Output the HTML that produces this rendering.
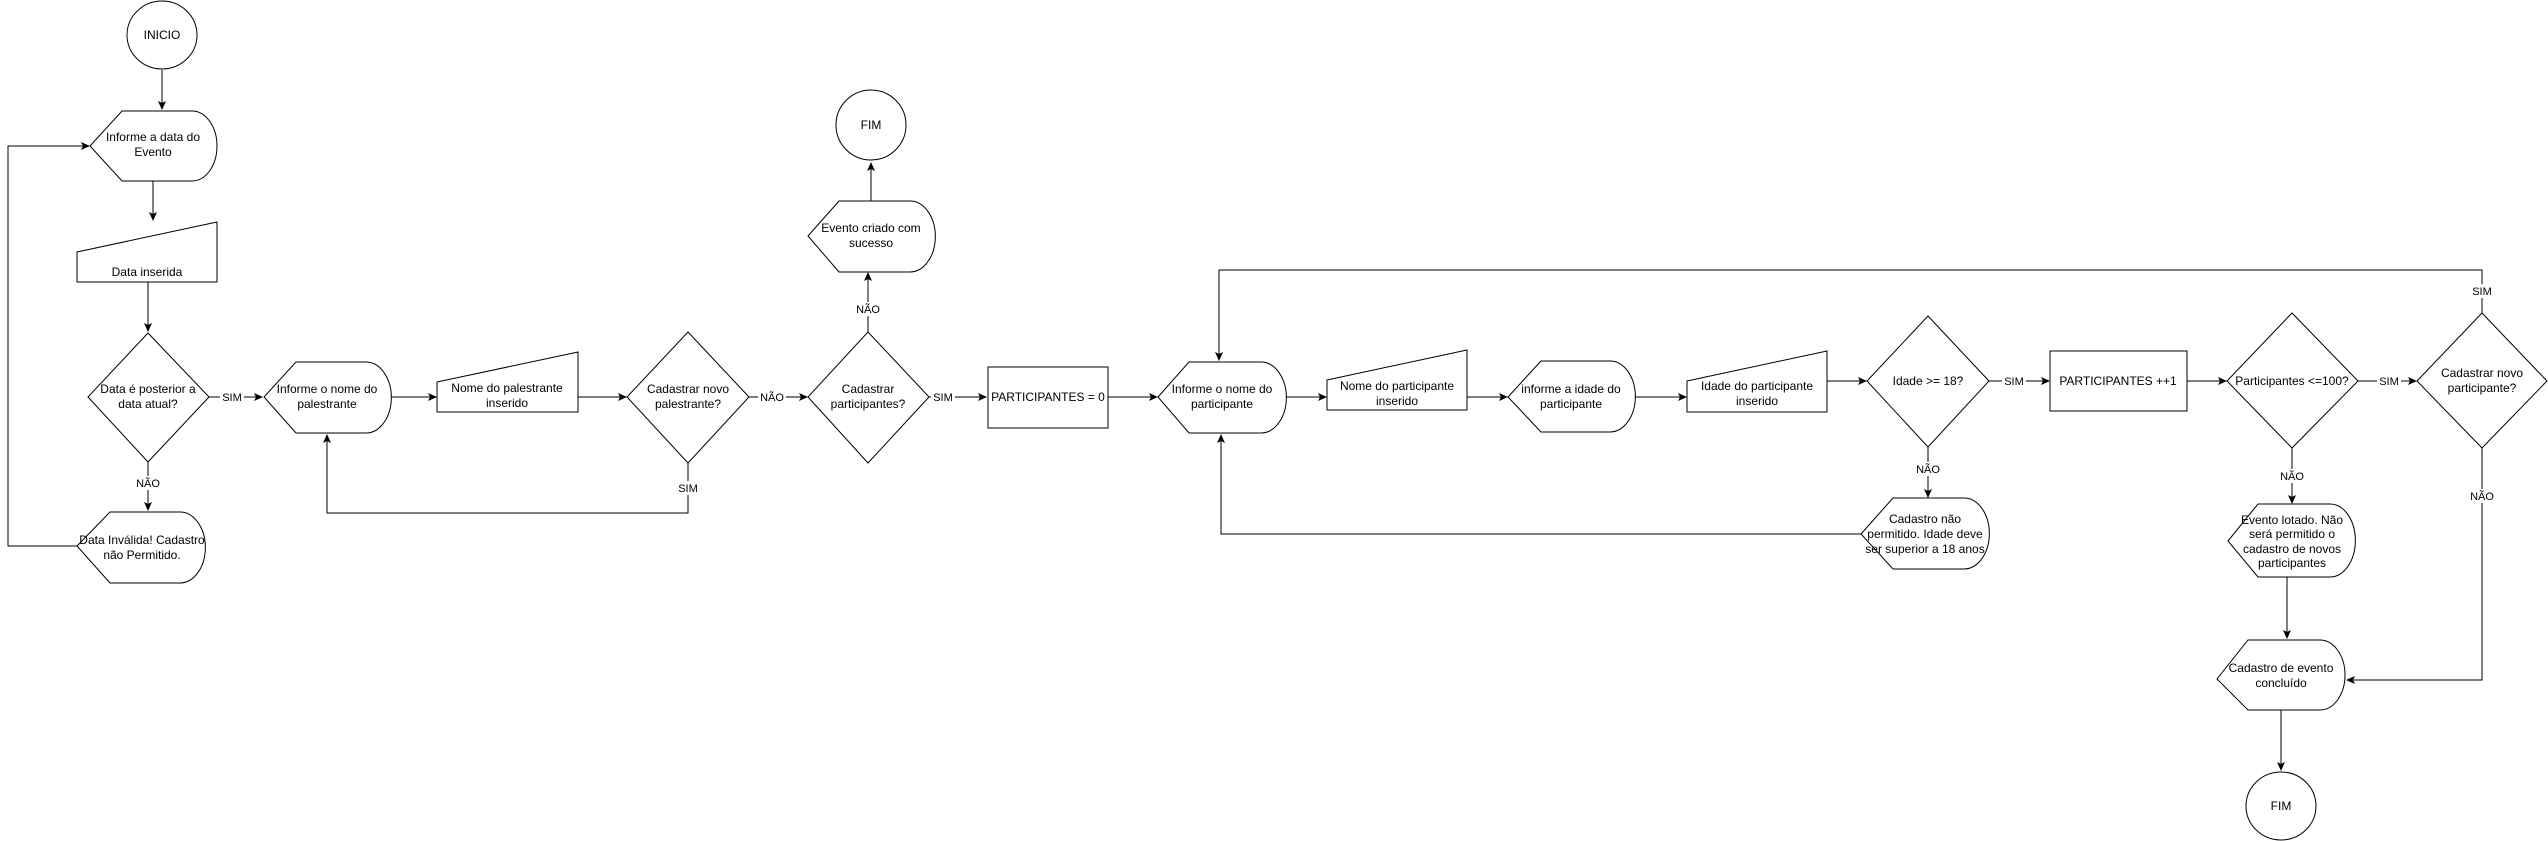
<!DOCTYPE html>
<html><head><meta charset="utf-8"><style>
html,body{margin:0;padding:0;background:#fff;}
svg{display:block;}
text{font-family:"Liberation Sans",Helvetica,Arial,sans-serif;font-size:12px;fill:#000;text-anchor:middle;}
.l{font-size:11px;}
.s{fill:#fff;stroke:#000;stroke-width:1;}
.c{fill:none;stroke:#000;stroke-width:1;}
</style></head><body>
<svg width="2548" height="841" viewBox="0 0 2548 841" xmlns="http://www.w3.org/2000/svg">
<defs><marker id="a" markerWidth="10" markerHeight="10" refX="8" refY="4" orient="auto" markerUnits="userSpaceOnUse"><path d="M0,0 L9,4 L0,8 L2,4 Z" fill="#000"/></marker></defs>

<!-- connectors -->
<g class="c" marker-end="url(#a)">
<path d="M162,70 V109"/>
<path d="M153,181 V220"/>
<path d="M148,282 V331"/>
<path d="M209,397 H262"/>
<path d="M148,462 V510"/>
<path d="M77,546 H8 V146 H89"/>
<path d="M391,397 H436"/>
<path d="M578,397 H626"/>
<path d="M688,463 V513 H327 V435"/>
<path d="M748,397 H807"/>
<path d="M868,332 V273"/>
<path d="M871,201 V163"/>
<path d="M929,397 H986"/>
<path d="M1108,397 H1157"/>
<path d="M1286,397 H1326"/>
<path d="M1467,397 H1507"/>
<path d="M1635,397 H1686"/>
<path d="M1827,381 H1866"/>
<path d="M1989,381 H2049"/>
<path d="M1928,447 V497"/>
<path d="M1861,534 H1221 V435"/>
<path d="M2187,381 H2226"/>
<path d="M2358,381 H2416"/>
<path d="M2292,448 V503"/>
<path d="M2482,313 V270 H1219 V360"/>
<path d="M2482,448 V680 H2347"/>
<path d="M2287,577 V638"/>
<path d="M2281,710 V770"/>
</g>

<!-- shapes -->
<ellipse class="s" cx="162" cy="35" rx="35" ry="34"/>
<text x="162" y="39">INICIO</text>

<path class="s" d="M90,146 L122,111 H192 A25,35 0 0 1 192,181 H122 Z"/>
<text x="153" y="141">Informe a data do</text><text x="153" y="156">Evento</text>

<path class="s" d="M77,252 L217,222 V282 H77 Z"/>
<text x="147" y="276">Data inserida</text>

<path class="s" d="M148,333 L209,397 L148,462 L88,397 Z"/>
<text x="148" y="393">Data é posterior a</text><text x="148" y="408">data atual?</text>

<path class="s" d="M77,546 L110,512 H180 A25,35 0 0 1 180,583 H110 Z"/>
<text x="142" y="544">Data Inválida! Cadastro</text><text x="142" y="559">não Permitido.</text>

<path class="s" d="M264,397 L296,362 H366 A25,35 0 0 1 366,433 H296 Z"/>
<text x="327" y="393">Informe o nome do</text><text x="327" y="408">palestrante</text>

<path class="s" d="M437,382 L578,352 V412 H437 Z"/>
<text x="507" y="392">Nome do palestrante</text><text x="507" y="407">inserido</text>

<path class="s" d="M688,332 L749,397 L688,463 L627,397 Z"/>
<text x="688" y="393">Cadastrar novo</text><text x="688" y="408">palestrante?</text>

<path class="s" d="M868,332 L929,397 L868,463 L808,397 Z"/>
<text x="868" y="393">Cadastrar</text><text x="868" y="408">participantes?</text>

<path class="s" d="M808,236 L839,201 H910 A25,35 0 0 1 910,272 H839 Z"/>
<text x="871" y="232">Evento criado com</text><text x="871" y="247">sucesso</text>

<ellipse class="s" cx="871" cy="125" rx="35" ry="35"/>
<text x="871" y="129">FIM</text>

<rect class="s" x="988" y="367" width="120" height="61"/>
<text x="1048" y="401">PARTICIPANTES = 0</text>

<path class="s" d="M1158,397 L1189,362 H1261 A25,35 0 0 1 1261,433 H1189 Z"/>
<text x="1222" y="393">Informe o nome do</text><text x="1222" y="408">participante</text>

<path class="s" d="M1327,380 L1467,350 V410 H1327 Z"/>
<text x="1397" y="390">Nome do participante</text><text x="1397" y="405">inserido</text>

<path class="s" d="M1508,397 L1541,361 H1610 A25,35 0 0 1 1610,432 H1541 Z"/>
<text x="1571" y="393">informe a idade do</text><text x="1571" y="408">participante</text>

<path class="s" d="M1687,381 L1827,351 V412 H1687 Z"/>
<text x="1757" y="390">Idade do participante</text><text x="1757" y="405">inserido</text>

<path class="s" d="M1928,316 L1989,381 L1928,447 L1867,381 Z"/>
<text x="1928" y="385">Idade &gt;= 18?</text>

<path class="s" d="M1861,534 L1893,498 H1964 A25,35 0 0 1 1964,569 H1893 Z"/>
<text x="1925" y="523">Cadastro não</text><text x="1925" y="538">permitido. Idade deve</text><text x="1925" y="553">ser superior a 18 anos</text>

<rect class="s" x="2050" y="351" width="137" height="60"/>
<text x="2118" y="385">PARTICIPANTES ++1</text>

<path class="s" d="M2292,313 L2358,381 L2292,448 L2227,381 Z"/>
<text x="2292" y="385">Participantes &lt;=100?</text>

<path class="s" d="M2482,313 L2547,381 L2482,448 L2417,381 Z"/>
<text x="2482" y="377">Cadastrar novo</text><text x="2482" y="392">participante?</text>

<path class="s" d="M2228,541 L2258,504 H2330 A25,36 0 0 1 2330,577 H2258 Z"/>
<text x="2292" y="524">Evento lotado. Não</text><text x="2292" y="538">será permitido o</text><text x="2292" y="553">cadastro de novos</text><text x="2292" y="567">participantes</text>

<path class="s" d="M2217,679 L2248,640 H2320 A25,35 0 0 1 2320,710 H2248 Z"/>
<text x="2281" y="672">Cadastro de evento</text><text x="2281" y="687">concluído</text>

<ellipse class="s" cx="2281" cy="806" rx="35" ry="34"/>
<text x="2281" y="810">FIM</text>

<!-- labels -->
<g class="l">
<rect x="220" y="390" width="24" height="14" fill="#fff"/><text class="l" x="232" y="401">SIM</text>
<rect x="134" y="476" width="28" height="14" fill="#fff"/><text class="l" x="148" y="487">NÃO</text>
<rect x="676" y="481" width="24" height="14" fill="#fff"/><text class="l" x="688" y="492">SIM</text>
<rect x="758" y="390" width="28" height="14" fill="#fff"/><text class="l" x="772" y="401">NÃO</text>
<rect x="854" y="302" width="28" height="14" fill="#fff"/><text class="l" x="868" y="313">NÃO</text>
<rect x="931" y="390" width="24" height="14" fill="#fff"/><text class="l" x="943" y="401">SIM</text>
<rect x="2002" y="374" width="24" height="14" fill="#fff"/><text class="l" x="2014" y="385">SIM</text>
<rect x="1914" y="462" width="28" height="14" fill="#fff"/><text class="l" x="1928" y="473">NÃO</text>
<rect x="2377" y="374" width="24" height="14" fill="#fff"/><text class="l" x="2389" y="385">SIM</text>
<rect x="2278" y="469" width="28" height="14" fill="#fff"/><text class="l" x="2292" y="480">NÃO</text>
<rect x="2470" y="284" width="24" height="14" fill="#fff"/><text class="l" x="2482" y="295">SIM</text>
<rect x="2468" y="489" width="28" height="14" fill="#fff"/><text class="l" x="2482" y="500">NÃO</text>
</g>
</svg>
</body></html>
